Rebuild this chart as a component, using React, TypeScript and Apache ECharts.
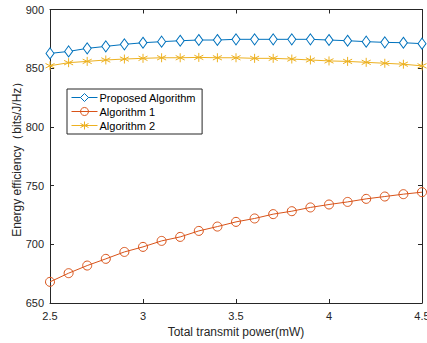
import React, { useEffect, useRef } from "react";
import * as echarts from "echarts";

const xValues = [2.5, 2.6, 2.7, 2.8, 2.9, 3.0, 3.1, 3.2, 3.3, 3.4, 3.5, 3.6, 3.7, 3.8, 3.9, 4.0, 4.1, 4.2, 4.3, 4.4, 4.5];
const proposed = [862.6, 864.3, 866.9, 868.6, 870.3, 871.7, 872.6, 873.4, 874.0, 874.0, 874.6, 874.6, 874.6, 874.6, 874.6, 874.0, 873.4, 872.6, 872.0, 871.7, 870.9];
const algorithm1 = [668.0, 675.4, 681.9, 687.6, 693.5, 697.8, 702.9, 706.3, 711.4, 715.1, 719.1, 722.0, 725.7, 728.2, 731.4, 733.9, 736.1, 738.7, 740.7, 742.7, 744.4];
const algorithm2 = [852.1, 854.7, 855.8, 857.0, 857.8, 858.4, 858.9, 858.9, 859.2, 858.9, 858.9, 858.4, 858.4, 857.8, 857.0, 856.2, 855.8, 855.0, 854.2, 853.4, 852.0];
const seriesNames = ["Proposed Algorithm", "Algorithm 1", "Algorithm 2"];
const colors = ["#0072BD", "#D95319", "#EDB120"];

const asterisk = "path://M5,0L5,10M0.7,2.5L9.3,7.5M0.7,7.5L9.3,2.5";

export default function App() {
  const ref = useRef<HTMLDivElement>(null);
  useEffect(() => {
    if (!ref.current) return;
    const chart = echarts.init(ref.current, undefined, { renderer: "svg" });
    const axisColor = "#262626";
    const font = "Liberation Sans, Arial, sans-serif";
    const mk = (d: number[]) => xValues.map((x, i) => [x, d[i]]);
    chart.setOption({
      animation: false,
      textStyle: { fontFamily: font },
      grid: { left: 50, right: 5, top: 9.5, bottom: 40, containLabel: false, outerBoundsMode: "none" },
      xAxis: [
        {
          type: "value", min: 2.5, max: 4.5, interval: 0.5, position: "bottom",
          name: "Total transmit power(mW)", nameLocation: "middle", nameGap: 23, nameMoveOverlap: false,
          nameTextStyle: { color: axisColor, fontSize: 12, fontFamily: font },
          axisLine: { lineStyle: { color: axisColor, width: 1 } },
          axisTick: { inside: true, length: 4, lineStyle: { color: axisColor } },
          axisLabel: { color: axisColor, fontSize: 11, fontFamily: font, margin: 7 },
          splitLine: { show: false },
        },
        {
          type: "value", min: 2.5, max: 4.5, interval: 0.5, position: "top",
          axisLine: { show: true, lineStyle: { color: axisColor, width: 1 } },
          axisTick: { inside: true, length: 4, lineStyle: { color: axisColor } },
          axisLabel: { show: false },
          splitLine: { show: false },
        },
      ],
      yAxis: [
        {
          type: "value", min: 650, max: 900, interval: 50, position: "left",
          name: "Energy efficiency（bits/J/Hz）", nameLocation: "middle", nameGap: 27, nameMoveOverlap: false,
          nameTextStyle: { color: axisColor, fontSize: 12, fontFamily: font },
          axisLine: { show: true, lineStyle: { color: axisColor, width: 1 } },
          axisTick: { show: true, inside: true, length: 4, lineStyle: { color: axisColor } },
          axisLabel: { color: axisColor, fontSize: 11, fontFamily: font, margin: 6 },
          splitLine: { show: false },
        },
        {
          type: "value", min: 650, max: 900, interval: 50, position: "right",
          axisLine: { show: true, lineStyle: { color: axisColor, width: 1 } },
          axisTick: { show: true, inside: true, length: 4, lineStyle: { color: axisColor } },
          axisLabel: { show: false },
          splitLine: { show: false },
        },
      ],
      legend: {
        orient: "vertical", left: 67, top: 89,
        data: seriesNames,
        backgroundColor: "#ffffff", borderColor: axisColor, borderWidth: 1,
        padding: [3, 6, 3, 4], itemGap: 3, itemWidth: 26, itemHeight: 10,
        lineStyle: { width: 1 },
        itemStyle: { borderWidth: 1 },
        textStyle: { color: "#000", fontSize: 11, fontFamily: font, padding: [0, 0, 0, -3] },
      },
      series: [
        {
          name: seriesNames[0], type: "line", data: mk(proposed),
          symbol: "diamond", symbolSize: [8, 11], showAllSymbol: true,
          lineStyle: { color: colors[0], width: 1 },
          itemStyle: { color: "#ffffff", borderColor: colors[0], borderWidth: 1 },
        },
        {
          name: seriesNames[1], type: "line", data: mk(algorithm1),
          symbol: "circle", symbolSize: 9, showAllSymbol: true,
          lineStyle: { color: colors[1], width: 1 },
          itemStyle: { color: "rgba(255,255,255,0)", borderColor: colors[1], borderWidth: 1 },
        },
        {
          name: seriesNames[2], type: "line", data: mk(algorithm2),
          symbol: asterisk, symbolSize: 9, showAllSymbol: true,
          lineStyle: { color: colors[2], width: 1 },
          itemStyle: { color: "rgba(255,255,255,0)", borderColor: colors[2], borderWidth: 1 },
        },
      ],
    });
    return () => chart.dispose();
  }, []);
  return <div ref={ref} style={{ width: 427, height: 343, position: "absolute", left: 0, top: 0, background: "#fff" }} />;
}
